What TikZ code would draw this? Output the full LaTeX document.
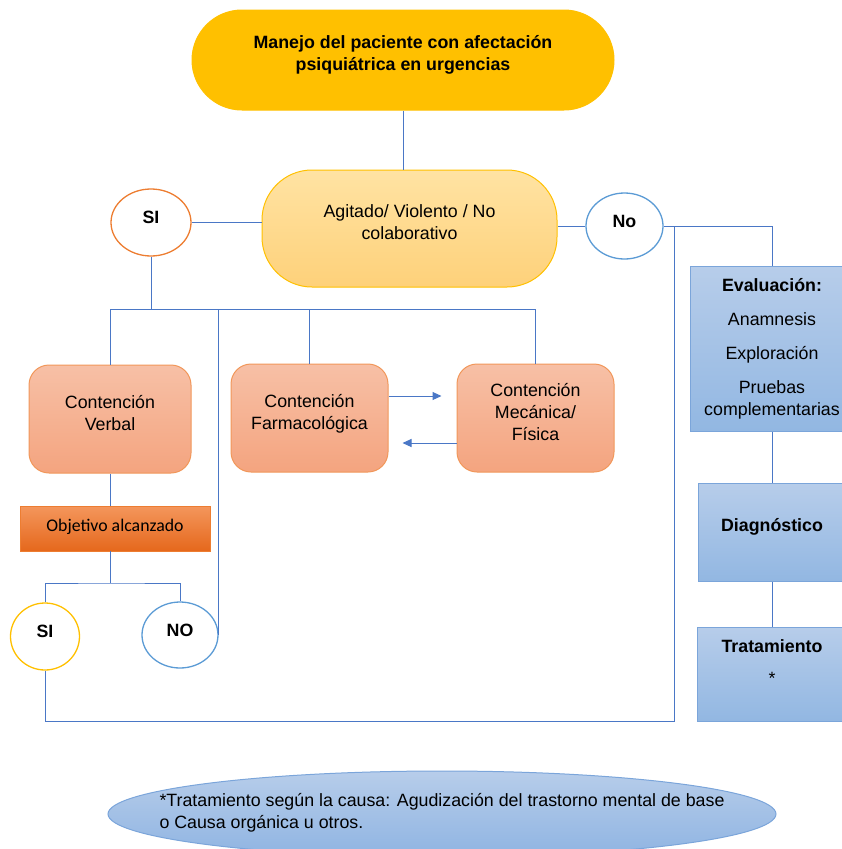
\documentclass[tikz,border=0pt]{standalone}
\usepackage{fontspec}
\setmainfont{Liberation Sans}
\newfontfamily\calibri{Carlito}
\usetikzlibrary{positioning,shapes.geometric,arrows.meta}

\definecolor{oro}{HTML}{FFC000}
\definecolor{naranja}{HTML}{ED7D31}
\definecolor{azul}{HTML}{5B9BD5}
\definecolor{linea}{HTML}{4A77C6}
\definecolor{bordeazul}{HTML}{7BA5DA}

\begin{document}
\begin{tikzpicture}[x=1pt,y=-1pt,>={Triangle[length=9pt,width=8pt]},
  txt/.style={font=\fontsize{17.8}{22}\selectfont},
  bold/.style={font=\fontsize{17.8}{22}\selectfont\bfseries},
  every node/.style={align=center,inner sep=0pt,txt},
  conn/.style={linea,line width=1pt},
  pill/.style={rectangle,rounded corners=50pt,line width=1pt},
  salmon/.style={rectangle,rounded corners=20pt,draw=naranja!80,line width=1pt,
    top color={rgb,255:red,247;green,192;blue,166},bottom color={rgb,255:red,244;green,164;blue,127},text depth=12pt},
  blue box/.style={rectangle,draw=bordeazul,line width=1pt,
    top color={rgb,255:red,183;green,205;blue,234},bottom color={rgb,255:red,146;green,183;blue,226}},
  answer/.style={ellipse,fill=white,line width=1.3pt,bold,text depth=10pt}
]
\useasboundingbox (0,0) rectangle (842,849);

% cabecera y pregunta
\node[pill,fill=oro,draw=oro,minimum width=422pt,minimum height=100pt,bold,text depth=14pt]
  (manejo) at (403,60) {Manejo del paciente con afectación\\psiquiátrica en urgencias};
\node[pill,draw=oro,top color={rgb,255:red,255;green,227;blue,163},bottom color={rgb,255:red,254;green,209;blue,122},
  minimum width=295pt,minimum height=117pt,text depth=13pt]
  (agit) at (409.5,228.5) {Agitado/ Violento / No\\colaborativo};
\node[answer,draw=naranja,minimum width=80pt,minimum height=67pt] (si) at (151,222.5) {SI};
\node[answer,draw=azul,minimum width=77pt,minimum height=66pt] (no) at (624.5,226) {No};

% contenciones
\node[salmon,minimum width=162pt,minimum height=108pt] (verbal) at (110,419) {Contención\\Verbal};
\node[salmon,minimum width=157pt,minimum height=108pt] (farm) at (309.5,418) {Contención\\Farmacológica};
\node[salmon,minimum width=157pt,minimum height=108pt] (mec) at (535.5,418) {Contención\\Mecánica/\\Física};
\node[rectangle,draw=naranja,line width=0.8pt,top color={rgb,255:red,244;green,150;blue,92},bottom color={rgb,255:red,229;green,104;blue,28},
  minimum width=190pt,minimum height=45pt,font=\fontsize{17.8}{22}\calibri,text depth=7pt]
  (obj) at (115,528.5) {Objetivo alcanzado};
\node[answer,draw=oro,minimum width=69pt,minimum height=67pt] (si2) at (45,636.5) {SI};
\node[answer,draw=azul,minimum width=76pt,minimum height=66pt] (no2) at (180,635) {NO};

% columna de la derecha
\node[blue box,minimum width=164pt,minimum height=165pt] (eval) at (772,348.5)
  {\textbf{Evaluación:}\\[12pt]Anamnesis\\[12pt]Exploración\\[12pt]Pruebas\\complementarias};
\node[blue box,minimum width=148pt,minimum height=98pt,bold,text depth=14pt] (diag) at (772,532) {Diagnóstico};
\node[blue box,minimum width=150pt,minimum height=94pt,text depth=24pt] (trat) at (772,674) {\textbf{Tratamiento}\\[10pt]*};

\node[ellipse,draw=bordeazul,line width=1pt,top color={rgb,255:red,183;green,205;blue,234},bottom color={rgb,255:red,143;green,180;blue,226},
  inner xsep=-49pt,inner ysep=8pt,minimum width=668pt,minimum height=86pt,align=left,text depth=6pt]
  (nota) at (442,814) {*Tratamiento según la causa: Agudización del trastorno mental de base\\o Causa orgánica u otros.};

% conexiones
\coordinate (bar) at (151,309);
\coordinate (split) at (110,583);
\coordinate (retorno) at (674,721);
\draw[conn] (manejo.south) -- (manejo.south |- agit.north);
\draw[conn] (si.east) -- (si.east -| agit.west);
\draw[conn] (no.west) -- (no.west -| agit.east);
\draw[conn] (si.south) -- (bar);
\draw[conn] (verbal.north) |- (mec.north |- bar) -- (mec.north);
\draw[conn] (farm.north) -- (farm.north |- bar);
\draw[conn] (no2.east) -- (no2.east |- bar);
\draw[conn,->] ([yshift=22pt]farm.east) -- ([yshift=22pt,xshift=-15pt]mec.west);
\draw[conn,->] ([yshift=-25pt]mec.west) -- ([yshift=-25pt,xshift=14pt]farm.east);
\draw[conn] (verbal.south) -- (verbal.south |- obj.north);
\draw[conn] (split |- obj.south) -- (split);
\draw[conn] (si2.north) |- (split) -| (no2.north);
\draw[conn] (si2.south) |- (retorno) |- (no.east);
\draw[conn] (no.east) -| (eval.north);
\draw[conn] (eval.south) -- (diag.north);
\draw[conn] (diag.south) -- (trat.north);
\end{tikzpicture}
\end{document}
